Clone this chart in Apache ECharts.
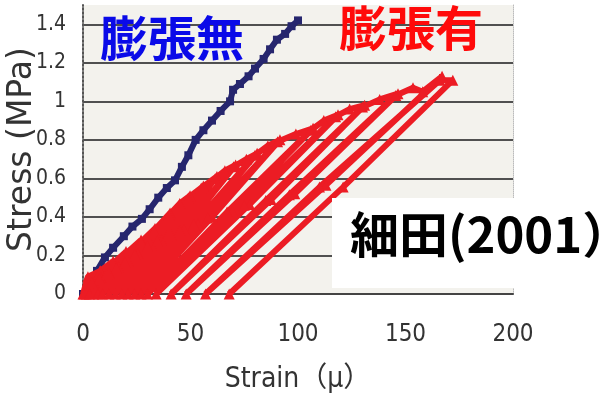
<!DOCTYPE html>
<html>
<head>
<meta charset="utf-8">
<script src="https://cdn.jsdelivr.net/npm/echarts@6/dist/echarts.min.js"></script>
<style>
html,body{margin:0;padding:0;background:#fff;}
#chart{width:602px;height:394px;}
</style>
</head>
<body>
<div id="chart"></div>
<script>
// Tick settings
const xTicks = [0, 50, 100, 150, 200];
const yTicks = [0, 0.2, 0.4, 0.6, 0.8, 1, 1.2, 1.4];

// 膨張無 (no expansion) – single loading curve
const blueStrain = [0,3,6.5,10.2,14,19,23,27.4,31,35,39,42.8,46,49,52.4,56,60,64,68.4,69.8,73,77,80,84,87,90.2,94,97,100];
const blueStress = [0,0.05,0.12,0.19,0.24,0.3,0.35,0.39,0.44,0.5,0.55,0.59,0.66,0.72,0.8,0.85,0.9,0.95,1.0,1.06,1.09,1.13,1.17,1.22,1.27,1.32,1.35,1.39,1.42];

// 膨張有 (with expansion) – repeated loading / unloading cycles
const redStrain = [0,2.3,8,5,0.5, 4,8,14,8.3,1.5, 7.5,14,20,12,3, 11,20,27,16.5,5, 15.5,27,33.5,21,7, 19.5,33,40.5,25.5,9, 24,40,45,49.8,31.8,12, 30,49,56,36.5,15, 34.5,55,62.3,41,18, 39,61.5,66,71,47,21, 45,70,76,81,53.5,24, 51.5,80,86,91.6,60,27, 58,90.5,99,107,69.5,30, 67,106,112,118.6,77.5,34, 75,117.5,124,131,87.5,41, 85,130,138,146.5,98.5,48, 96,145.5,153.5,158,167,113,57, 110,166,172,121,68];
const redStress = [0,0.09,0.12,0.06,0, 0.06,0.12,0.17,0.085,0, 0.08,0.16,0.22,0.11,0, 0.105,0.21,0.28,0.14,0, 0.135,0.27,0.34,0.17,0, 0.165,0.33,0.42,0.21,0, 0.205,0.41,0.47,0.51,0.255,0, 0.25,0.5,0.56,0.28,0, 0.275,0.55,0.61,0.305,0, 0.3,0.6,0.64,0.67,0.335,0, 0.33,0.66,0.7,0.73,0.365,0, 0.36,0.72,0.77,0.8,0.4,0, 0.395,0.79,0.83,0.86,0.43,0, 0.425,0.85,0.9,0.93,0.465,0, 0.46,0.92,0.96,0.98,0.49,0, 0.485,0.97,1.01,1.04,0.52,0, 0.515,1.03,1.07,1.05,1.13,0.565,0, 0.555,1.11,1.11,0.555,0];

const blueData = blueStrain.map((x, i) => [x, blueStress[i]]);
const redData = redStrain.map((x, i) => [x, redStress[i]]);

const narrow = "'Liberation Sans Narrow', 'DejaVu Sans Condensed', 'Liberation Sans', sans-serif";
const cjk = "'Noto Sans CJK JP', 'Noto Sans', sans-serif";

const chart = echarts.init(document.getElementById('chart'), null, {renderer: 'canvas'});
const gridColors = yTicks.map(() => '#505050').concat(['rgba(0,0,0,0)']);
gridColors[0] = 'rgba(0,0,0,0)';

chart.setOption({
  animation: false,
  backgroundColor: '#ffffff',
  grid: {left: 83, right: 89, top: 5, bottom: 100, show: true, backgroundColor: '#f3f2ed', borderWidth: 0,
         containLabel: false, outerBoundsMode: 'none'},
  xAxis: {
    type: 'value', min: xTicks[0], max: xTicks[xTicks.length - 1], interval: 50,
    name: 'Strain（μ）', nameLocation: 'middle', nameGap: 72, nameMoveOverlap: false,
    nameTextStyle: {fontFamily: narrow + ", 'Noto Sans CJK JP'", fontSize: 28, color: '#333'},
    axisLine: {show: true, lineStyle: {color: '#444', width: 2}},
    axisTick: {show: false},
    axisLabel: {margin: 29, fontFamily: narrow, fontSize: 24, color: '#333'},
    splitLine: {show: false}
  },
  yAxis: [{
    type: 'value', min: 0, max: 1.5, interval: 0.2,
    name: 'Stress (MPa)', nameLocation: 'middle', nameGap: 44, nameMoveOverlap: false,
    nameTextStyle: {fontFamily: "'DejaVu Sans', sans-serif", fontSize: 33, color: '#333'},
    axisLine: {show: true, lineStyle: {color: '#555', width: 2, type: 'dotted'}},
    axisTick: {show: false},
    axisLabel: {margin: 17, fontFamily: narrow, fontSize: 21, color: '#333', showMaxLabel: false,
      formatter: v => String(Math.round(v * 10) / 10)},
    splitLine: {show: true, lineStyle: {color: gridColors, width: 2}}
  }, {
    type: 'value', min: 0, max: 1.5, position: 'right',
    axisLine: {show: true, lineStyle: {color: '#bbb', width: 1, type: 'dotted'}},
    axisTick: {show: false}, axisLabel: {show: false}, splitLine: {show: false}
  }],
  series: [{
    name: '膨張無', type: 'line', data: blueData,
    symbol: 'rect', symbolSize: 8, showAllSymbol: true,
    lineStyle: {color: '#26266e', width: 6},
    itemStyle: {color: '#26266e'}, z: 2
  }, {
    name: '膨張有', type: 'line', data: redData,
    symbol: 'triangle', symbolSize: 11, showAllSymbol: true,
    lineStyle: {color: '#ec1c24', width: 6},
    itemStyle: {color: '#ec1c24'}, z: 3
  }],
  graphic: [
    {type: 'text', left: 100, top: 14, style: {text: '膨張無', font: "bold 48px " + cjk, fill: '#0a0ae8'}, z: 10},
    {type: 'text', left: 339, top: 4, style: {text: '膨張有', font: "bold 48px " + cjk, fill: '#ff0a0a'}, z: 10},
    {type: 'rect', shape: {x: 332, y: 198, width: 270, height: 90}, style: {fill: '#ffffff'}, z: 9},
    {type: 'text', left: 350, top: 210, style: {text: '細田(2001）', font: "bold 49px " + cjk, fill: '#000'}, z: 10}
  ]
});
</script>
</body>
</html>
